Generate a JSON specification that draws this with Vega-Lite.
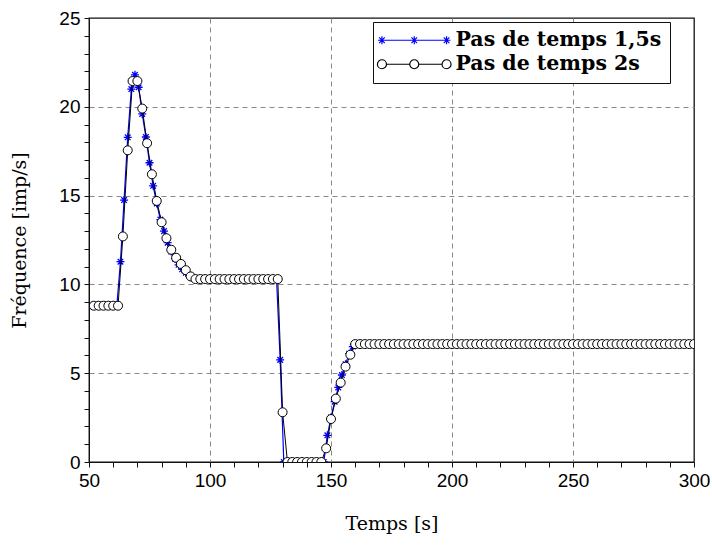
{
  "$schema": "https://vega.github.io/schema/vega-lite/v6.json",
  "width": 605,
  "height": 444,
  "autosize": {"type": "none"},
  "padding": {"left": 89, "top": 18, "right": 18, "bottom": 83},
  "background": "white",
  "config": {
    "view": {"stroke": "#111111", "strokeWidth": 1.3},
    "axis": {
      "labelFont": "Liberation Sans",
      "labelFontSize": 19,
      "labelColor": "black",
      "titleFont": "DejaVu Serif",
      "titleFontSize": 19,
      "titleFontWeight": "normal",
      "titleColor": "black",
      "domainColor": "#111111",
      "tickColor": "#111111",
      "tickSize": 5,
      "gridColor": "#888888",
      "gridDash": [5, 4],
      "labelOverlap": false,
      "labelFlush": false
    }
  },
  "datasets": {
    "s15": [
      {"t":51,"f":8.8},{"t":52.5,"f":8.8},{"t":54,"f":8.8},{"t":55.5,"f":8.8},{"t":57,"f":8.8},{"t":58.5,"f":8.8},{"t":60,"f":8.8},{"t":61.5,"f":8.8},
      {"t":63,"f":11.28},{"t":64.5,"f":14.75},{"t":66,"f":18.28},{"t":67.5,"f":21.0},{"t":69,"f":21.8},{"t":70.5,"f":21.1},{"t":72,"f":19.6},{"t":73.5,"f":18.3},{"t":75,"f":16.85},{"t":76.5,"f":15.55},{"t":78,"f":14.55},{"t":79.5,"f":13.65},{"t":81,"f":13.0},{"t":82.5,"f":12.35},{"t":84,"f":11.85},{"t":85.5,"f":11.45},{"t":87,"f":11.1},{"t":88.5,"f":10.85},{"t":90,"f":10.65},{"t":91.5,"f":10.5},{"t":93,"f":10.38},{"t":94.5,"f":10.32},
      {"t":96,"f":10.3},{"t":97.5,"f":10.3},{"t":99,"f":10.3},{"t":100.5,"f":10.3},{"t":102,"f":10.3},{"t":103.5,"f":10.3},{"t":105,"f":10.3},{"t":106.5,"f":10.3},{"t":108,"f":10.3},{"t":109.5,"f":10.3},{"t":111,"f":10.3},{"t":112.5,"f":10.3},{"t":114,"f":10.3},{"t":115.5,"f":10.3},{"t":117,"f":10.3},{"t":118.5,"f":10.3},{"t":120,"f":10.3},{"t":121.5,"f":10.3},{"t":123,"f":10.3},{"t":124.5,"f":10.3},{"t":126,"f":10.3},{"t":127.5,"f":10.3},
      {"t":129,"f":5.75},
      {"t":130.5,"f":0},{"t":132,"f":0},{"t":133.5,"f":0},{"t":135,"f":0},{"t":136.5,"f":0},{"t":138,"f":0},{"t":139.5,"f":0},{"t":141,"f":0},{"t":142.5,"f":0},{"t":144,"f":0},{"t":145.5,"f":0},{"t":147,"f":0},
      {"t":148.5,"f":1.5},{"t":150,"f":2.5},{"t":151.5,"f":3.4},{"t":153,"f":4.2},{"t":154.5,"f":4.9},{"t":156,"f":5.5},{"t":157.5,"f":6.1},{"t":159,"f":6.5},
      {"t":160.5,"f":6.64},{"t":162,"f":6.64},{"t":163.5,"f":6.64},{"t":165,"f":6.64},{"t":166.5,"f":6.64},{"t":168,"f":6.64},{"t":169.5,"f":6.64},{"t":171,"f":6.64},{"t":172.5,"f":6.64},{"t":174,"f":6.64},{"t":175.5,"f":6.64},{"t":177,"f":6.64},{"t":178.5,"f":6.64},{"t":180,"f":6.64},{"t":181.5,"f":6.64},{"t":183,"f":6.64},{"t":184.5,"f":6.64},{"t":186,"f":6.64},{"t":187.5,"f":6.64},{"t":189,"f":6.64},{"t":190.5,"f":6.64},{"t":192,"f":6.64},{"t":193.5,"f":6.64},{"t":195,"f":6.64},{"t":196.5,"f":6.64},{"t":198,"f":6.64},{"t":199.5,"f":6.64},{"t":201,"f":6.64},{"t":202.5,"f":6.64},{"t":204,"f":6.64},{"t":205.5,"f":6.64},{"t":207,"f":6.64},{"t":208.5,"f":6.64},{"t":210,"f":6.64},{"t":211.5,"f":6.64},{"t":213,"f":6.64},{"t":214.5,"f":6.64},{"t":216,"f":6.64},{"t":217.5,"f":6.64},{"t":219,"f":6.64},{"t":220.5,"f":6.64},{"t":222,"f":6.64},{"t":223.5,"f":6.64},{"t":225,"f":6.64},{"t":226.5,"f":6.64},{"t":228,"f":6.64},{"t":229.5,"f":6.64},{"t":231,"f":6.64},{"t":232.5,"f":6.64},{"t":234,"f":6.64},{"t":235.5,"f":6.64},{"t":237,"f":6.64},{"t":238.5,"f":6.64},{"t":240,"f":6.64},{"t":241.5,"f":6.64},{"t":243,"f":6.64},{"t":244.5,"f":6.64},{"t":246,"f":6.64},{"t":247.5,"f":6.64},{"t":249,"f":6.64},{"t":250.5,"f":6.64},{"t":252,"f":6.64},{"t":253.5,"f":6.64},{"t":255,"f":6.64},{"t":256.5,"f":6.64},{"t":258,"f":6.64},{"t":259.5,"f":6.64},{"t":261,"f":6.64},{"t":262.5,"f":6.64},{"t":264,"f":6.64},{"t":265.5,"f":6.64},{"t":267,"f":6.64},{"t":268.5,"f":6.64},{"t":270,"f":6.64},{"t":271.5,"f":6.64},{"t":273,"f":6.64},{"t":274.5,"f":6.64},{"t":276,"f":6.64},{"t":277.5,"f":6.64},{"t":279,"f":6.64},{"t":280.5,"f":6.64},{"t":282,"f":6.64},{"t":283.5,"f":6.64},{"t":285,"f":6.64},{"t":286.5,"f":6.64},{"t":288,"f":6.64},{"t":289.5,"f":6.64},{"t":291,"f":6.64},{"t":292.5,"f":6.64},{"t":294,"f":6.64},{"t":295.5,"f":6.64},{"t":297,"f":6.64},{"t":298.5,"f":6.64},{"t":300,"f":6.64}
    ],
    "s2": [
      {"t":52,"f":8.8},{"t":54,"f":8.8},{"t":56,"f":8.8},{"t":58,"f":8.8},{"t":60,"f":8.8},{"t":62,"f":8.8},
      {"t":64,"f":12.7},{"t":66,"f":17.55},{"t":68,"f":21.45},{"t":70,"f":21.45},{"t":72,"f":19.9},{"t":74,"f":17.95},{"t":76,"f":16.2},{"t":78,"f":14.7},{"t":80,"f":13.5},{"t":82,"f":12.6},{"t":84,"f":11.95},{"t":86,"f":11.5},{"t":88,"f":11.15},{"t":90,"f":10.8},{"t":92,"f":10.45},{"t":94,"f":10.3},
      {"t":96,"f":10.3},{"t":98,"f":10.3},{"t":100,"f":10.3},{"t":102,"f":10.3},{"t":104,"f":10.3},{"t":106,"f":10.3},{"t":108,"f":10.3},{"t":110,"f":10.3},{"t":112,"f":10.3},{"t":114,"f":10.3},{"t":116,"f":10.3},{"t":118,"f":10.3},{"t":120,"f":10.3},{"t":122,"f":10.3},{"t":124,"f":10.3},{"t":126,"f":10.3},{"t":128,"f":10.3},
      {"t":130,"f":2.8},
      {"t":132,"f":0},{"t":134,"f":0},{"t":136,"f":0},{"t":138,"f":0},{"t":140,"f":0},{"t":142,"f":0},{"t":144,"f":0},{"t":146,"f":0},
      {"t":148,"f":0.77},{"t":150,"f":2.42},{"t":152,"f":3.57},{"t":154,"f":4.47},{"t":156,"f":5.37},{"t":158,"f":6.04},
      {"t":160,"f":6.64},{"t":162,"f":6.64},{"t":164,"f":6.64},{"t":166,"f":6.64},{"t":168,"f":6.64},{"t":170,"f":6.64},{"t":172,"f":6.64},{"t":174,"f":6.64},{"t":176,"f":6.64},{"t":178,"f":6.64},{"t":180,"f":6.64},{"t":182,"f":6.64},{"t":184,"f":6.64},{"t":186,"f":6.64},{"t":188,"f":6.64},{"t":190,"f":6.64},{"t":192,"f":6.64},{"t":194,"f":6.64},{"t":196,"f":6.64},{"t":198,"f":6.64},{"t":200,"f":6.64},{"t":202,"f":6.64},{"t":204,"f":6.64},{"t":206,"f":6.64},{"t":208,"f":6.64},{"t":210,"f":6.64},{"t":212,"f":6.64},{"t":214,"f":6.64},{"t":216,"f":6.64},{"t":218,"f":6.64},{"t":220,"f":6.64},{"t":222,"f":6.64},{"t":224,"f":6.64},{"t":226,"f":6.64},{"t":228,"f":6.64},{"t":230,"f":6.64},{"t":232,"f":6.64},{"t":234,"f":6.64},{"t":236,"f":6.64},{"t":238,"f":6.64},{"t":240,"f":6.64},{"t":242,"f":6.64},{"t":244,"f":6.64},{"t":246,"f":6.64},{"t":248,"f":6.64},{"t":250,"f":6.64},{"t":252,"f":6.64},{"t":254,"f":6.64},{"t":256,"f":6.64},{"t":258,"f":6.64},{"t":260,"f":6.64},{"t":262,"f":6.64},{"t":264,"f":6.64},{"t":266,"f":6.64},{"t":268,"f":6.64},{"t":270,"f":6.64},{"t":272,"f":6.64},{"t":274,"f":6.64},{"t":276,"f":6.64},{"t":278,"f":6.64},{"t":280,"f":6.64},{"t":282,"f":6.64},{"t":284,"f":6.64},{"t":286,"f":6.64},{"t":288,"f":6.64},{"t":290,"f":6.64},{"t":292,"f":6.64},{"t":294,"f":6.64},{"t":296,"f":6.64},{"t":298,"f":6.64},{"t":300,"f":6.64}
    ]
  },
  "encoding": {
    "x": {
      "field": "t",
      "type": "quantitative",
      "scale": {"domain": [50, 300], "nice": false, "zero": false},
      "axis": {
        "title": "Temps [s]",
        "values": [50,60,70,80,90,100,110,120,130,140,150,160,170,180,190,200,210,220,230,240,250,260,270,280,290,300],
        "labelExpr": "datum.value % 50 === 0 ? datum.label : ''",
        "grid": true,
        "gridOpacity": {"condition": {"test": "datum.value % 50 === 0 && datum.value > 50 && datum.value < 300", "value": 1}, "value": 0},
        "labelPadding": 4,
        "titlePadding": 24
      }
    },
    "y": {
      "field": "f",
      "type": "quantitative",
      "scale": {"domain": [0, 25], "nice": false},
      "axis": {
        "title": "Fréquence [imp/s]",
        "values": [0,1,2,3,4,5,6,7,8,9,10,11,12,13,14,15,16,17,18,19,20,21,22,23,24,25],
        "labelExpr": "datum.value % 5 === 0 ? datum.label : ''",
        "grid": true,
        "gridOpacity": {"condition": {"test": "datum.value % 5 === 0 && datum.value > 0 && datum.value < 25", "value": 1}, "value": 0},
        "labelPadding": 4,
        "titlePadding": 29
      }
    }
  },
  "layer": [
    {
      "data": {"name": "s15"},
      "mark": {"type": "line", "stroke": "#0000ff", "strokeWidth": 1.2, "clip": true}
    },
    {
      "data": {"name": "s15"},
      "mark": {"type": "point", "shape": "M-1,0L1,0M0,-1L0,1M-0.7,-0.7L0.7,0.7M-0.7,0.7L0.7,-0.7", "size": 64, "stroke": "#0000ff", "strokeWidth": 1.3, "filled": false, "opacity": 1, "clip": true}
    },
    {
      "data": {"name": "s2"},
      "mark": {"type": "line", "stroke": "black", "strokeWidth": 1, "clip": true}
    },
    {
      "data": {"name": "s2"},
      "mark": {"type": "point", "shape": "circle", "size": 81, "fill": "white", "fillOpacity": 1, "stroke": "black", "strokeWidth": 1, "opacity": 1, "clip": true}
    },
    {
      "data": {"name": "s2"},
      "transform": [{"filter": "datum.t < 0"}],
      "mark": {"type": "point", "filled": false, "strokeWidth": 1.2, "opacity": 1},
      "encoding": {
        "shape": {
          "field": "series",
          "type": "nominal",
          "scale": {
            "domain": ["Pas de temps 1,5s", "Pas de temps 2s"],
            "range": [
              "M-3.8,0L3.8,0M-4.27,0L-3.33,0M-3.8,-0.47L-3.8,0.47M-4.13,-0.33L-3.47,0.33M-4.13,0.33L-3.47,-0.33M-0.47,0L0.47,0M0,-0.47L0,0.47M-0.33,-0.33L0.33,0.33M-0.33,0.33L0.33,-0.33M3.33,0L4.27,0M3.8,-0.47L3.8,0.47M3.47,-0.33L4.13,0.33M3.47,0.33L4.13,-0.33",
              "M-3.27,0L-0.53,0M0.53,0L3.27,0M-3.27,0A0.53,0.53,0,1,1,-4.33,0A0.53,0.53,0,1,1,-3.27,0ZM0.53,0A0.53,0.53,0,1,1,-0.53,0A0.53,0.53,0,1,1,0.53,0ZM4.33,0A0.53,0.53,0,1,1,3.27,0A0.53,0.53,0,1,1,4.33,0Z"
            ]
          },
          "legend": {
            "title": null,
            "orient": "none",
            "legendX": 284,
            "legendY": 4,
            "strokeColor": "#111111",
            "fillColor": "white",
            "padding": 8,
            "symbolSize": 289,
            "symbolFillColor": "white",
            "symbolStrokeWidth": 1.2,
            "symbolOffset": 23,
            "labelOffset": 31,
            "labelFont": "DejaVu Serif",
            "labelFontSize": 20.5,
            "labelFontWeight": "bold",
            "labelColor": "black",
            "labelLimit": 500,
            "rowPadding": 3
          }
        },
        "stroke": {
          "field": "series",
          "type": "nominal",
          "scale": {"domain": ["Pas de temps 1,5s", "Pas de temps 2s"], "range": ["#0000ff", "black"]}
        }
      }
    }
  ]
}
